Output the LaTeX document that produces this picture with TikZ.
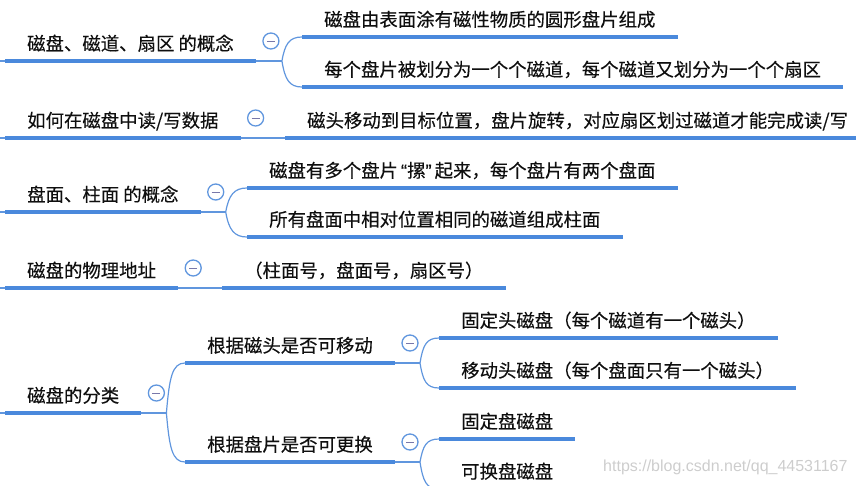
\documentclass[tikz,border=0pt]{standalone}
\usepackage{fontspec}
\setmainfont{Liberation Sans}
\newfontfamily\cjk[FakeBold=0.3]{Noto Sans CJK SC}
\newfontfamily\qfont[FakeBold=0.3]{Liberation Sans}
\usetikzlibrary{calc}
\definecolor{ulblue}{RGB}{74,137,220}
\definecolor{lnblue}{RGB}{96,150,222}
\definecolor{txt}{RGB}{15,15,15}
\definecolor{minuscol}{RGB}{120,120,170}
\definecolor{wmgray}{RGB}{205,205,205}
\newcommand\mmbranch[2]{\draw[conn] (#1) .. controls ($(#1)!0.7!(#1 |- #2.south west)+(3,0)$) and ($(#2.south west)+(-13,0)$) .. (#2.south west);}
\begin{document}
\begin{tikzpicture}[x=1pt,y=-1pt,
  topic/.style={anchor=south west, font=\cjk\fontsize{18.4}{22}\selectfont, text=txt,
    inner xsep=22pt, inner ysep=0pt, text height=14pt, text depth=10.5pt},
  ul/.style={draw=ulblue, line width=4pt},
  conn/.style={draw=lnblue, line width=1.2pt},
  fold/.style={circle, draw=lnblue, line width=1.3pt, fill=white, minimum size=16pt, inner sep=0pt,
    path picture={\draw[minuscol, line width=1pt] ($(path picture bounding box.center)+(-4pt,0)$) -- ++(8pt,0);}}
]
\useasboundingbox (0,0) rectangle (856,485);
\clip (0,0) rectangle (856,485);

% row 1
\node[topic] (p1) at (5,61) {磁盘、磁道、扇区 的概念};
\node[fold] (f1) at ($(p1.south east)+(15,-20)$) {};
\coordinate (j1) at ($(p1.south east)+(26,0)$);
\node[topic] (c11) at (302,37) {磁盘由表面涂有磁性物质的圆形盘片组成};
\node[topic] (c12) at (302,87) {每个盘片被划分为一个个磁道，每个磁道又划分为一个个扇区};

% row 2
\node[topic] (p2) at (5,138) {如何在磁盘中读/写数据};
\node[fold] (f2) at ($(p2.south east)+(15,-20)$) {};
\node[topic] (c21) at (285,138) {磁头移动到目标位置，盘片旋转，对应扇区划过磁道才能完成读/写};

% row 3
\node[topic] (p3) at (5,212) {盘面、柱面 的概念};
\node[fold] (f3) at ($(p3.south east)+(15,-20)$) {};
\coordinate (j3) at ($(p3.south east)+(25,0)$);
\node[topic] (c31) at (247,188) {磁盘有多个盘片{\qfont\kern3pt“}摞{\qfont”\kern3pt}起来，每个盘片有两个盘面};
\node[topic] (c32) at (247,237) {所有盘面中相对位置相同的磁道组成柱面};

% row 4
\node[topic] (p4) at (5,288) {磁盘的物理地址};
\node[fold] (f4) at ($(p4.south east)+(15,-20)$) {};
\node[topic] (c41) at (222,288) {（柱面号，盘面号，扇区号）};

% row 5
\node[topic] (p5) at (5,413) {磁盘的分类};
\node[fold] (f5) at ($(p5.south east)+(15,-20)$) {};
\coordinate (j5) at ($(p5.south east)+(25,0)$);
\node[topic] (ca) at (185,363) {根据磁头是否可移动};
\node[topic] (cb) at (185,462) {根据盘片是否可更换};
\node[fold] (fa) at ($(ca.south east)+(15,-20)$) {};
\node[fold] (fb) at ($(cb.south east)+(15,-20)$) {};
\coordinate (ja) at ($(ca.south east)+(25,0)$);
\coordinate (jb) at ($(cb.south east)+(25,0)$);
\node[topic] (a1) at (439,338) {固定头磁盘（每个磁道有一个磁头）};
\node[topic] (a2) at (439,388) {移动头磁盘（每个盘面只有一个磁头）};
\node[topic] (b1) at (439,439) {固定盘磁盘};
\node[topic] (b2) at (439,489) {可换盘磁盘};

% left stubs
\foreach \n in {p1,p2,p3,p4,p5} {
  \coordinate (l\n) at (\n.south west -| 0,0);
  \draw[conn] (l\n) -- (\n.south west);
}

% connectors
\draw[conn] (p1.south east) -- (j1);
\mmbranch{j1}{c11}
\mmbranch{j1}{c12}
\draw[conn] (p2.south east) -- (c21.south west);
\draw[conn] (p3.south east) -- (j3);
\mmbranch{j3}{c31}
\mmbranch{j3}{c32}
\draw[conn] (p4.south east) -- (c41.south west);
\draw[conn] (p5.south east) -- (j5);
\mmbranch{j5}{ca}
\mmbranch{j5}{cb}
\draw[conn] (ca.south east) -- (ja);
\mmbranch{ja}{a1}
\mmbranch{ja}{a2}
\draw[conn] (cb.south east) -- (jb);
\mmbranch{jb}{b1}
\mmbranch{jb}{b2}

% underlines
\foreach \n in {p1,c11,c12,p2,c21,p3,c31,c32,p4,c41,p5,ca,cb,a1,a2,b1,b2}
  \draw[ul] (\n.south west) -- (\n.south east);

% watermark
\node[anchor=west, inner sep=0pt, font=\fontsize{16}{16}\selectfont, text=wmgray] (wm) at (603,467) {https://blog.csdn.net/qq\_44531167};
\end{tikzpicture}
\end{document}
